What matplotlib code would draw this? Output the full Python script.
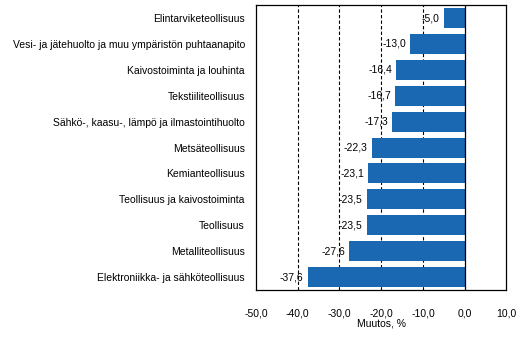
import matplotlib
matplotlib.use("Agg")
import matplotlib.pyplot as plt
from matplotlib.ticker import FuncFormatter

categories = [
    "Elintarviketeollisuus",
    "Vesi- ja jätehuolto ja muu ympäristön puhtaanapito",
    "Kaivostoiminta ja louhinta",
    "Tekstiiliteollisuus",
    "Sähkö-, kaasu-, lämpö ja ilmastointihuolto",
    "Metsäteollisuus",
    "Kemianteollisuus",
    "Teollisuus ja kaivostoiminta",
    "Teollisuus",
    "Metalliteollisuus",
    "Elektroniikka- ja sähköteollisuus",
]
values = [-5.0, -13.0, -16.4, -16.7, -17.3, -22.3, -23.1, -23.5, -23.5, -27.6, -37.6]
xticks = [-50, -40, -30, -20, -10, 0, 10]

BLUE = "#1a68b2"
plt.rcParams["font.family"] = ["Liberation Sans", "DejaVu Sans"]
plt.rcParams["font.size"] = 7.5

fig = plt.figure(figsize=(5.32, 3.4), dpi=100)
ax = fig.add_axes([0.481, 0.147, 0.471, 0.838])

y = list(range(len(categories)))
ax.barh(y, values, height=0.77, color=BLUE, zorder=3)
ax.set_ylim(len(categories) - 0.5, -0.5)
ax.set_xlim(-50, 10)
ax.set_xticks(xticks)
ax.xaxis.set_major_formatter(FuncFormatter(lambda v, p: ("%.1f" % v).replace(".", ",")))
ax.set_yticks(y)
ax.set_yticklabels(categories)
ax.tick_params(length=0, pad=8)
ax.tick_params(axis="x", pad=13)

for g in [-40, -30, -20, -10]:
    ax.axvline(g, color="black", lw=0.8, ls=(0, (3, 2)), zorder=1)
ax.axvline(0, color="black", lw=0.9, zorder=4)

for yi, v in zip(y, values):
    ax.annotate(("%.1f" % v).replace(".", ","), (v, yi), xytext=(-3, 0),
                textcoords="offset points", ha="right", va="center", zorder=5)

for s in ax.spines.values():
    s.set_linewidth(0.9)

ax.set_xlabel("Muutos, %", labelpad=0)

fig.savefig("out.png", dpi=100)
